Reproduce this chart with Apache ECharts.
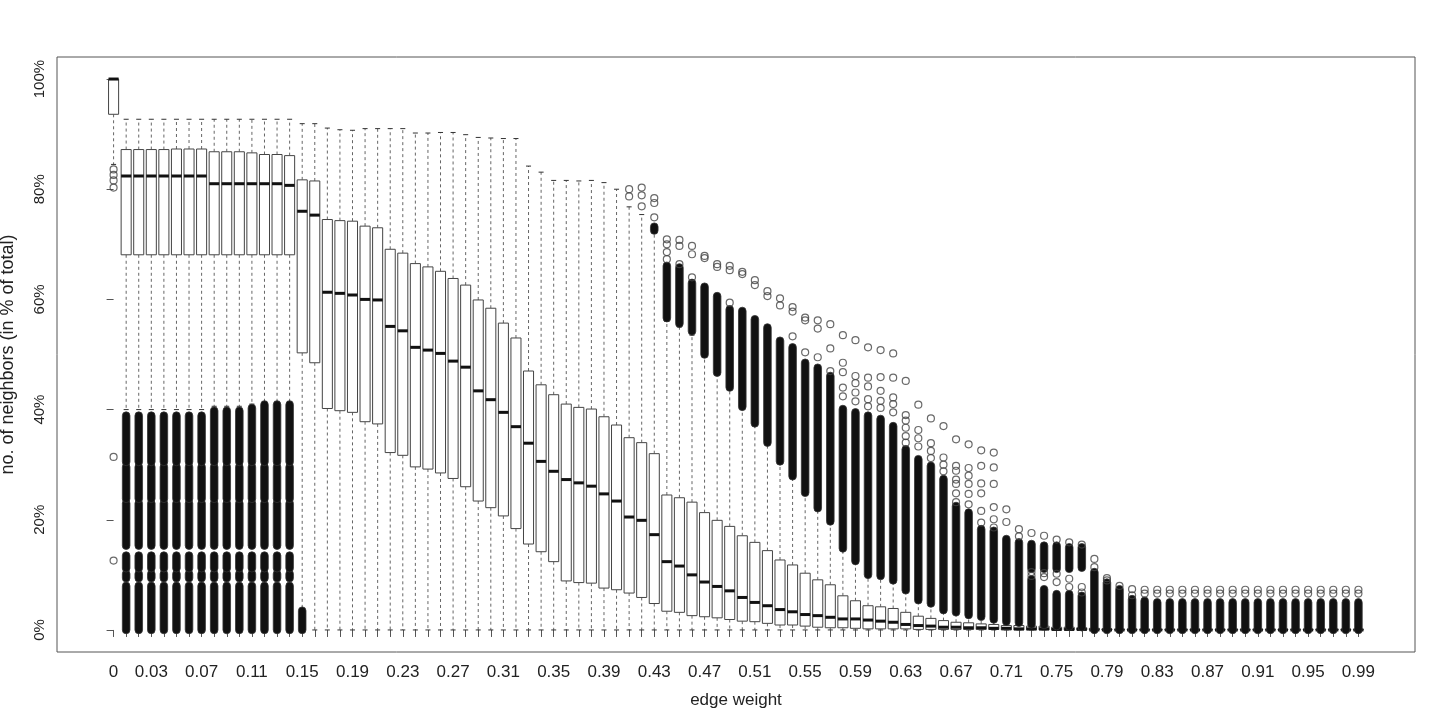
<!DOCTYPE html>
<html>
<head>
<meta charset="utf-8">
<title>edge weight boxplot</title>
<script src="https://cdn.jsdelivr.net/npm/echarts@6/dist/echarts.min.js"></script>
<style>
  html, body { margin: 0; padding: 0; background: #fff; }
  #chart { width: 1444px; height: 723px; }
</style>
</head>
<body>
<div id="chart"></div>
<script>
// categories on the x axis (edge weight)
const categories = [
  '0', '0.01', '0.02', '0.03', '0.04', '0.05', '0.06', '0.07', '0.08', '0.09',
  '0.1', '0.11', '0.12', '0.13', '0.14', '0.15', '0.16', '0.17', '0.18', '0.19',
  '0.2', '0.21', '0.22', '0.23', '0.24', '0.25', '0.26', '0.27', '0.28', '0.29',
  '0.3', '0.31', '0.32', '0.33', '0.34', '0.35', '0.36', '0.37', '0.38', '0.39',
  '0.4', '0.41', '0.42', '0.43', '0.44', '0.45', '0.46', '0.47', '0.48', '0.49',
  '0.5', '0.51', '0.52', '0.53', '0.54', '0.55', '0.56', '0.57', '0.58', '0.59',
  '0.6', '0.61', '0.62', '0.63', '0.64', '0.65', '0.66', '0.67', '0.68', '0.69',
  '0.7', '0.71', '0.72', '0.73', '0.74', '0.75', '0.76', '0.77', '0.78', '0.79',
  '0.8', '0.81', '0.82', '0.83', '0.84', '0.85', '0.86', '0.87', '0.88', '0.89',
  '0.9', '0.91', '0.92', '0.93', '0.94', '0.95', '0.96', '0.97', '0.98', '0.99'
];
const xTickLabels = ['0', '0.03', '0.07', '0.11', '0.15', '0.19', '0.23', '0.27', '0.31', '0.35', '0.39', '0.43', '0.47',
  '0.51', '0.55', '0.59', '0.63', '0.67', '0.71', '0.75', '0.79', '0.83', '0.87', '0.91', '0.95', '0.99'];
const yTickValues = [0, 20, 40, 60, 80, 100];

// box statistics, in % of total
const lowerWhisker = [
  84.5, 40.0, 40.0, 40.0, 40.0, 40.0, 40.0, 40.0, 40.6, 40.6,
  40.6, 41.0, 41.5, 41.5, 41.5, 0, 0, 0, 0, 0,
  0, 0, 0, 0, 0, 0, 0, 0, 0, 0,
  0, 0, 0, 0, 0, 0, 0, 0, 0, 0,
  0, 0, 0, 0, 0, 0, 0, 0, 0, 0,
  0, 0, 0, 0, 0, 0, 0, 0, 0, 0,
  0, 0, 0, 0, 0, 0, 0, 0, 0, 0,
  0, 0, 0, 0, 0, 0, 0, 0, 0, 0,
  0, 0, 0, 0, 0, 0, 0, 0, 0, 0,
  0, 0, 0, 0, 0, 0, 0, 0, 0, 0
];
const q1 = [
  93.6, 68.1, 68.1, 68.1, 68.1, 68.1, 68.1, 68.1, 68.1, 68.1,
  68.1, 68.1, 68.1, 68.1, 68.1, 50.3, 48.5, 40.2, 39.8, 39.5,
  37.8, 37.4, 32.2, 31.7, 29.6, 29.2, 28.5, 27.5, 26.0, 23.4,
  22.2, 20.7, 18.4, 15.6, 14.2, 12.4, 8.9, 8.6, 8.5, 7.6,
  7.3, 6.7, 5.9, 4.8, 3.4, 3.2, 2.6, 2.4, 2.2, 1.9,
  1.6, 1.5, 1.2, 0.9, 0.9, 0.7, 0.5, 0.4, 0.4, 0.3,
  0.2, 0.2, 0.2, 0.2, 0.1, 0.1, 0.1, 0.1, 0.1, 0.1,
  0.1, 0, 0, 0, 0, 0, 0, 0, 0, 0,
  0, 0, 0, 0, 0, 0, 0, 0, 0, 0,
  0, 0, 0, 0, 0, 0, 0, 0, 0, 0
];
const median = [
  100, 82.4, 82.4, 82.4, 82.4, 82.4, 82.4, 82.4, 81.0, 81.0,
  81.0, 81.0, 81.0, 81.0, 80.7, 76.0, 75.3, 61.3, 61.1, 60.8,
  60.0, 59.9, 55.1, 54.3, 51.3, 50.8, 50.2, 48.8, 47.7, 43.4,
  41.8, 39.5, 36.9, 33.9, 30.6, 28.8, 27.3, 26.7, 26.1, 24.7,
  23.4, 20.5, 19.9, 17.3, 12.4, 11.6, 10.0, 8.7, 7.9, 7.1,
  5.9, 5.0, 4.4, 3.7, 3.3, 2.8, 2.6, 2.3, 2.0, 2.0,
  1.8, 1.6, 1.4, 1.0, 0.8, 0.7, 0.5, 0.5, 0.4, 0.4,
  0.3, 0.3, 0.2, 0.2, 0.2, 0.1, 0.1, 0.1, 0, 0,
  0, 0, 0, 0, 0, 0, 0, 0, 0, 0,
  0, 0, 0, 0, 0, 0, 0, 0, 0, 0
];
const q3 = [
  100, 87.2, 87.2, 87.2, 87.2, 87.3, 87.3, 87.3, 86.8, 86.8,
  86.8, 86.6, 86.3, 86.3, 86.1, 81.7, 81.5, 74.5, 74.3, 74.2,
  73.3, 73.0, 69.1, 68.4, 66.5, 65.9, 65.1, 63.8, 62.6, 59.9,
  58.4, 55.7, 53.0, 47.0, 44.5, 42.7, 41.0, 40.4, 40.1, 38.7,
  37.2, 34.9, 34.0, 32.0, 24.5, 24.0, 23.2, 21.3, 19.9, 18.8,
  17.1, 15.9, 14.4, 12.7, 11.8, 10.3, 9.1, 8.2, 6.2, 5.3,
  4.4, 4.2, 3.9, 3.2, 2.5, 2.1, 1.7, 1.4, 1.3, 1.1,
  1.0, 0.8, 0.8, 0.7, 0.7, 0.5, 0.5, 0.4, 0.3, 0.2,
  0.1, 0.1, 0.1, 0.1, 0.1, 0.1, 0.1, 0.1, 0.1, 0.1,
  0.1, 0.1, 0.1, 0.1, 0.1, 0.1, 0.1, 0.1, 0.1, 0.1
];
const upperWhisker = [
  100, 92.7, 92.7, 92.7, 92.7, 92.7, 92.7, 92.7, 92.7, 92.7,
  92.7, 92.7, 92.7, 92.7, 92.7, 91.9, 91.9, 91.1, 90.8, 90.7,
  91.0, 91.0, 91.0, 91.0, 90.2, 90.2, 90.3, 90.3, 89.9, 89.4,
  89.3, 89.2, 89.2, 84.2, 83.1, 81.6, 81.6, 81.5, 81.6, 81.2,
  80.0, 76.8, 75.4, 72.0, 56.0, 55.0, 53.5, 49.5, 46.2, 43.6,
  40.0, 37.0, 33.5, 30.2, 27.5, 24.5, 21.7, 19.3, 14.5, 12.2,
  9.6, 9.5, 8.7, 7.0, 5.2, 4.6, 3.4, 3.0, 2.5, 2.2,
  1.7, 1.3, 1.2, 0.9, 0.8, 0.6, 0.5, 0.4, 0.3, 0.2,
  0.1, 0.1, 0.1, 0.1, 0.1, 0.1, 0.1, 0.1, 0.1, 0.1,
  0.1, 0.1, 0.1, 0.1, 0.1, 0.1, 0.1, 0.1, 0.1, 0.1
];

// runs of overlapping outliers that print as solid columns: [index, from %, to %]
const denseOutliers = [
  [1, 0, 8.0], [1, 9.4, 10.2], [1, 11.2, 13.5], [1, 15.3, 23.0], [1, 23.8, 29.6], [1, 30.5, 38.9],
  [2, 0, 8.0], [2, 9.4, 10.2], [2, 11.2, 13.5], [2, 15.3, 23.0], [2, 23.8, 29.6], [2, 30.5, 38.9],
  [3, 0, 8.0], [3, 9.4, 10.2], [3, 11.2, 13.5], [3, 15.3, 23.0], [3, 23.8, 29.6], [3, 30.5, 38.9],
  [4, 0, 8.0], [4, 9.4, 10.2], [4, 11.2, 13.5], [4, 15.3, 23.0], [4, 23.8, 29.6], [4, 30.5, 38.9],
  [5, 0, 8.0], [5, 9.4, 10.2], [5, 11.2, 13.5], [5, 15.3, 23.0], [5, 23.8, 29.6], [5, 30.5, 38.9],
  [6, 0, 8.0], [6, 9.4, 10.2], [6, 11.2, 13.5], [6, 15.3, 23.0], [6, 23.8, 29.6], [6, 30.5, 38.9],
  [7, 0, 8.0], [7, 9.4, 10.2], [7, 11.2, 13.5], [7, 15.3, 23.0], [7, 23.8, 29.6], [7, 30.5, 38.9],
  [8, 0, 8.0], [8, 9.4, 10.2], [8, 11.2, 13.5], [8, 15.3, 23.0], [8, 23.8, 29.6], [8, 30.5, 39.8],
  [9, 0, 8.0], [9, 9.4, 10.2], [9, 11.2, 13.5], [9, 15.3, 23.0], [9, 23.8, 29.6], [9, 30.5, 39.8],
  [10, 0, 8.0], [10, 9.4, 10.2], [10, 11.2, 13.5], [10, 15.3, 23.0], [10, 23.8, 29.6], [10, 30.5, 39.8],
  [11, 0, 8.0], [11, 9.4, 10.2], [11, 11.2, 13.5], [11, 15.3, 23.0], [11, 23.8, 29.6], [11, 30.5, 40.3],
  [12, 0, 8.0], [12, 9.4, 10.2], [12, 11.2, 13.5], [12, 15.3, 23.0], [12, 23.8, 29.6], [12, 30.5, 40.9],
  [13, 0, 8.0], [13, 9.4, 10.2], [13, 11.2, 13.5], [13, 15.3, 23.0], [13, 23.8, 29.6], [13, 30.5, 40.9],
  [14, 0, 8.0], [14, 9.4, 10.2], [14, 11.2, 13.5], [14, 15.3, 23.0], [14, 23.8, 29.6], [14, 30.5, 40.9],
  [15, 0, 3.5],
  [43, 72.5, 73.2],
  [44, 56.6, 66.1], [45, 55.6, 65.8], [46, 54.2, 63.0], [47, 50.0, 62.3], [48, 46.7, 60.6],
  [49, 44.0, 58.2], [50, 40.5, 57.9], [51, 37.5, 56.4], [52, 34.0, 54.9], [53, 30.6, 52.5],
  [54, 27.9, 51.3], [55, 24.9, 48.5], [56, 22.1, 47.6], [57, 19.7, 46.1], [58, 14.8, 40.1],
  [59, 12.5, 39.5], [60, 10.0, 38.9], [61, 9.8, 38.3], [62, 9.0, 37.0], [63, 7.2, 32.8],
  [64, 5.4, 31.0], [65, 4.8, 29.8], [66, 3.6, 27.4], [67, 3.2, 22.5], [68, 2.7, 21.3],
  [69, 2.4, 18.3], [70, 1.9, 18.0], [71, 1.5, 16.5], [72, 1.3, 15.9],
  [73, 1.0, 9.2], [73, 11.1, 15.6], [74, 0.9, 7.4], [74, 11.1, 15.3],
  [75, 0.7, 6.5], [75, 11.1, 15.3], [76, 0.6, 6.5], [76, 11.1, 15.0],
  [77, 0.5, 6.2], [77, 11.3, 15.0],
  [78, 0, 10.5], [79, 0, 8.6], [80, 0, 7.4], [81, 0, 5.6], [82, 0, 5.3],
  [83, 0, 5.0], [84, 0, 5.0], [85, 0, 5.0], [86, 0, 5.0], [87, 0, 5.0], [88, 0, 5.0],
  [89, 0, 5.0], [90, 0, 5.0], [91, 0, 5.0], [92, 0, 5.0], [93, 0, 5.0], [94, 0, 5.0],
  [95, 0, 5.0], [96, 0, 5.0], [97, 0, 5.0], [98, 0, 5.0], [99, 0, 5.0]
];

// single outliers that can be told apart: [index, %]
const outliers = [
  [0, 83.6], [0, 82.6], [0, 81.6], [0, 80.3], [0, 31.4], [0, 12.6],
  [41, 80.0], [41, 78.7],
  [42, 80.3], [42, 78.9], [42, 76.9],
  [43, 78.4], [43, 77.5], [43, 74.9],
  [44, 70.9], [44, 70.0], [44, 68.6], [44, 67.3],
  [45, 70.8], [45, 69.7], [45, 66.4],
  [46, 69.7], [46, 68.2], [46, 64.0],
  [47, 67.9], [47, 67.5],
  [48, 66.4], [48, 65.9],
  [49, 66.1], [49, 65.3], [49, 59.4],
  [50, 65.0], [50, 64.6],
  [51, 63.5], [51, 62.6],
  [52, 61.5], [52, 60.6],
  [53, 60.2], [53, 58.9],
  [54, 58.6], [54, 57.8], [54, 53.3],
  [55, 56.7], [55, 56.2], [55, 50.4],
  [56, 56.2], [56, 54.7], [56, 49.5],
  [57, 55.5], [57, 51.1], [57, 47.0],
  [58, 53.5], [58, 48.5], [58, 46.8], [58, 44.0], [58, 42.4],
  [59, 52.6], [59, 46.1], [59, 44.8], [59, 43.1], [59, 41.5],
  [60, 51.3], [60, 45.8], [60, 44.2], [60, 41.9], [60, 40.6],
  [61, 50.8], [61, 45.9], [61, 43.4], [61, 41.6], [61, 40.3],
  [62, 50.2], [62, 45.8], [62, 42.2], [62, 41.0], [62, 39.5],
  [63, 45.2], [63, 39.0], [63, 38.0], [63, 36.7], [63, 35.2], [63, 34.0],
  [64, 40.9], [64, 36.3], [64, 34.8], [64, 33.3],
  [65, 38.4], [65, 33.9], [65, 32.5], [65, 31.2],
  [66, 37.0], [66, 31.3], [66, 30.0], [66, 28.8],
  [67, 34.6], [67, 29.8], [67, 28.9], [67, 27.3], [67, 26.5], [67, 24.8], [67, 23.2],
  [68, 33.7], [68, 29.4], [68, 28.0], [68, 26.5], [68, 24.7], [68, 22.8],
  [69, 32.6], [69, 29.8], [69, 26.6], [69, 24.8], [69, 21.6], [69, 19.5],
  [70, 32.2], [70, 29.5], [70, 26.5], [70, 22.3], [70, 20.1], [70, 18.6],
  [71, 21.9], [71, 19.6],
  [72, 18.3], [72, 17.0],
  [73, 17.6], [73, 10.5], [73, 9.8],
  [74, 17.1], [74, 10.3], [74, 9.6],
  [75, 16.4], [75, 10.2], [75, 8.7],
  [76, 15.9], [76, 9.3], [76, 7.8],
  [77, 15.5], [77, 7.8], [77, 6.8],
  [78, 12.9], [78, 11.4],
  [79, 9.4], [79, 9.0],
  [80, 8.0],
  [81, 7.4], [81, 6.3],
  [82, 7.3], [82, 6.6], [83, 7.3], [83, 6.6], [84, 7.3], [84, 6.6], [85, 7.3], [85, 6.6],
  [86, 7.3], [86, 6.6], [87, 7.3], [87, 6.6], [88, 7.3], [88, 6.6], [89, 7.3], [89, 6.6],
  [90, 7.3], [90, 6.6], [91, 7.3], [91, 6.6], [92, 7.3], [92, 6.6], [93, 7.3], [93, 6.6],
  [94, 7.3], [94, 6.6], [95, 7.3], [95, 6.6], [96, 7.3], [96, 6.6], [97, 7.3], [97, 6.6],
  [98, 7.3], [98, 6.6], [99, 7.3], [99, 6.6]
];

const FONT = 'Liberation Sans, Arial, sans-serif';
const INK = '#222';
const LINE = '#555';

const boxData = categories.map((c, i) => [i, lowerWhisker[i], q1[i], median[i], q3[i], upperWhisker[i]]);

function renderBox(params, api) {
  const i = api.value(0);
  const x = api.coord([i, 0])[0];
  const y = (v) => api.coord([i, v])[1];
  const unit = api.size([1, 0])[0];
  const bw = unit * 0.8;
  const sw = bw * 0.5;
  const yLw = y(api.value(1)), yQ1 = y(api.value(2)), yMd = y(api.value(3));
  const yQ3 = y(api.value(4)), yUw = y(api.value(5));
  const dash = { stroke: '#666', lineWidth: 1, lineDash: [3, 3] };
  const solid = { stroke: '#333', lineWidth: 1 };
  return {
    type: 'group',
    children: [
      { type: 'line', shape: { x1: x, y1: yQ3, x2: x, y2: yUw }, style: dash },
      { type: 'line', shape: { x1: x, y1: yQ1, x2: x, y2: yLw }, style: dash },
      { type: 'line', shape: { x1: x - sw / 2, y1: yUw, x2: x + sw / 2, y2: yUw }, style: solid },
      { type: 'line', shape: { x1: x - sw / 2, y1: yLw, x2: x + sw / 2, y2: yLw }, style: solid },
      { type: 'rect', shape: { x: x - bw / 2, y: yQ3, width: bw, height: Math.max(yQ1 - yQ3, 0.5) },
        style: { fill: '#fff', stroke: '#444', lineWidth: 1 } },
      { type: 'line', shape: { x1: x - bw / 2, y1: yMd, x2: x + bw / 2, y2: yMd },
        style: { stroke: '#111', lineWidth: 3 } }
    ]
  };
}

function renderDense(params, api) {
  const i = api.value(0);
  const x = api.coord([i, 0])[0];
  const yLo = api.coord([i, api.value(1)])[1];
  const yHi = api.coord([i, api.value(2)])[1];
  const r = 3.8;
  return {
    type: 'rect',
    shape: { x: x - r, y: yHi - r, width: 2 * r, height: yLo - yHi + 2 * r, r: r },
    style: { fill: '#111', stroke: '#333', lineWidth: 0.8 }
  };
}

const chart = echarts.init(document.getElementById('chart'), null, { renderer: 'canvas' });

chart.setOption({
  backgroundColor: '#fff',
  animation: false,
  textStyle: { fontFamily: FONT },
  grid: {
    left: 57,
    top: 57,
    right: 29,
    bottom: 71,
    outerBoundsMode: 'none',
    containLabel: false,
    show: true,
    borderColor: LINE,
    borderWidth: 1,
    backgroundColor: 'transparent'
  },
  xAxis: {
    type: 'value',
    min: -4.5,
    max: 103.5,
    name: 'edge weight',
    nameLocation: 'middle',
    nameGap: 40,
    nameTextStyle: { fontSize: 17, color: INK, fontFamily: FONT },
    axisLine: { show: false },
    splitLine: { show: false },
    axisTick: {
      show: true,
      inside: false,
      length: 7,
      customValues: categories.map((c, i) => i),
      lineStyle: { color: LINE }
    },
    axisLabel: {
      customValues: xTickLabels.map((t) => categories.indexOf(t)),
      formatter: (v) => categories[v],
      margin: 12,
      fontSize: 17,
      color: INK,
      fontFamily: FONT
    }
  },
  yAxis: {
    type: 'value',
    min: -4,
    max: 104,
    name: 'no. of neighbors (in % of total)',
    nameLocation: 'middle',
    nameGap: 40,
    nameRotate: 90,
    nameTextStyle: { fontSize: 18, color: INK, fontFamily: FONT },
    axisLine: { show: false },
    splitLine: { show: false },
    axisTick: {
      show: true,
      inside: false,
      length: 7,
      customValues: yTickValues,
      lineStyle: { color: LINE }
    },
    axisLabel: {
      customValues: yTickValues,
      formatter: (v) => v + '%',
      rotate: 90,
      margin: 10,
      fontSize: 15,
      color: INK,
      fontFamily: FONT
    }
  },
  series: [
    {
      type: 'custom',
      name: 'boxes',
      renderItem: renderBox,
      data: boxData,
      encode: { x: 0, y: [1, 2, 3, 4, 5] },
      z: 2
    },
    {
      type: 'custom',
      name: 'dense outliers',
      renderItem: renderDense,
      data: denseOutliers,
      encode: { x: 0, y: [1, 2] },
      z: 3
    },
    {
      type: 'scatter',
      name: 'outliers',
      data: outliers,
      symbol: 'circle',
      symbolSize: 7,
      itemStyle: { color: 'rgba(0,0,0,0)', borderColor: '#444', borderWidth: 1.2 },
      z: 4
    }
  ]
});
</script>
</body>
</html>
